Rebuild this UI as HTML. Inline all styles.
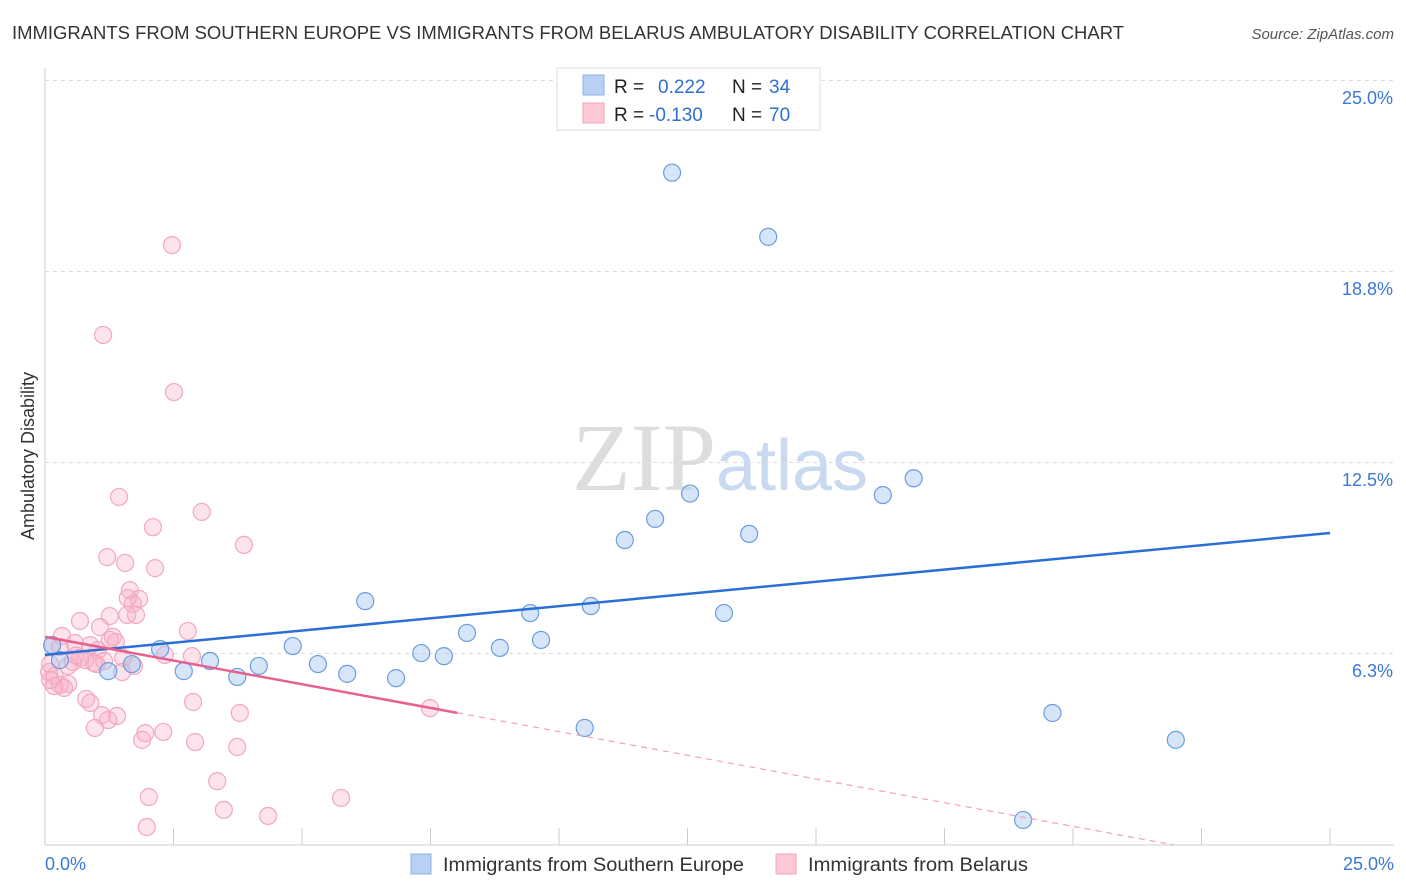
<!DOCTYPE html>
<html><head><meta charset="utf-8"><style>
body{margin:0;background:#fff;font-family:"Liberation Sans",sans-serif}
svg{display:block}
</style></head><body>
<svg id="chart" width="1406" height="892">
<text x="12" y="39" font-size="18" fill="#333" textLength="1112" lengthAdjust="spacingAndGlyphs">IMMIGRANTS FROM SOUTHERN EUROPE VS IMMIGRANTS FROM BELARUS AMBULATORY DISABILITY CORRELATION CHART</text>
<text x="1394" y="39" font-size="15" fill="#555" font-style="italic" text-anchor="end">Source: ZipAtlas.com</text>
<text x="720" y="490" font-size="96" fill="#ddd" text-anchor="middle" font-family="Liberation Serif,serif">ZIP<tspan fill="#c9d9ef" font-family="Liberation Sans,sans-serif" font-size="72">atlas</tspan></text>
<text transform="translate(34,456) rotate(-90)" font-size="18" fill="#333" text-anchor="middle">Ambulatory Disability</text>
<g id="grid"></g><g id="pts"></g><g id="lines"></g>
<g>
<rect x="557" y="68" width="263" height="62" fill="#fff" stroke="#ddd"/>
<rect x="583" y="75" width="21" height="20" fill="#b8d0f4" stroke="#8fb2e6"/>
<rect x="583" y="103" width="21" height="20" fill="#fbc8d6" stroke="#f2a5bb"/>
<text x="614" y="93" font-size="19" fill="#222">R =  <tspan fill="#2f6fd0" x="658">0.222</tspan><tspan fill="#222" x="732">N =</tspan><tspan fill="#2f6fd0" x="769">34</tspan></text>
<text x="614" y="121" font-size="19" fill="#222">R = <tspan fill="#2f6fd0" x="649">-0.130</tspan><tspan fill="#222" x="732">N =</tspan><tspan fill="#2f6fd0" x="769">70</tspan></text>
</g>
<g>
<rect x="411" y="854" width="20" height="20" fill="#b8d0f4" stroke="#8fb2e6"/>
<text x="443" y="871" font-size="19" fill="#333" textLength="301" lengthAdjust="spacingAndGlyphs">Immigrants from Southern Europe</text>
<rect x="776" y="854" width="20" height="20" fill="#fbc8d6" stroke="#f2a5bb"/>
<text x="808" y="871" font-size="19" fill="#333" textLength="220" lengthAdjust="spacingAndGlyphs">Immigrants from Belarus</text>
</g>
</svg>
<script>
const yTicks=[6.25,12.5,18.75,25];
const yTickLabels=["6.3%","12.5%","18.8%","25.0%"];
const xTickLabels=["0.0%","25.0%"];
const blueX=[12.2,14.07,16.9,16.3,12.55,11.87,11.28,13.7,6.23,9.44,10.62,13.21,8.21,9.65,4.82,8.85,7.32,7.76,3.21,4.16,5.31,2.70,5.88,3.74,6.83,2.24,1.69,1.23,10.5,19.6,22.0,19.03,0.14,0.29];
const blueY=[22.0,19.9,12.0,11.45,11.5,10.67,9.98,10.18,7.98,7.59,7.82,7.59,6.94,6.71,6.51,6.45,6.28,6.18,6.02,5.86,5.92,5.69,5.6,5.5,5.46,6.41,5.92,5.69,3.83,4.32,3.44,0.82,6.54,6.05];
const pinkX=[2.47,1.13,2.51,1.44,3.05,2.1,3.87,1.21,1.56,2.14,1.65,1.83,1.71,1.26,1.77,1.6,0.68,1.07,2.78,0.33,1.32,1.38,0.58,0.88,0.14,1.03,1.52,2.33,2.86,0.68,0.78,0.54,1.0,0.45,0.1,1.5,1.73,0.19,0.29,0.45,0.18,0.37,0.8,0.88,2.88,7.49,1.11,1.4,1.23,3.79,0.97,1.95,1.89,2.3,2.92,3.74,3.35,2.02,5.76,3.48,4.34,1.98,1.26,1.61,0.29,1.15,0.95,0.08,0.1,0.6];
const pinkY=[19.63,16.69,14.82,11.39,10.9,10.4,9.82,9.42,9.23,9.06,8.34,8.05,7.89,7.49,7.53,7.53,7.33,7.13,7.0,6.84,6.81,6.64,6.61,6.54,6.54,6.38,6.12,6.22,6.18,6.12,6.05,5.99,5.92,5.86,5.92,5.66,5.86,5.53,5.24,5.27,5.2,5.14,4.78,4.65,4.68,4.48,4.25,4.22,4.09,4.32,3.83,3.66,3.44,3.70,3.37,3.21,2.09,1.57,1.54,1.15,0.95,0.59,6.71,8.08,6.48,6.02,5.96,5.66,5.4,6.2];
const blueTrend=[6.22,10.21];
const pinkTrend=[6.81,-0.31];
const X=v=>45+v*51.4, Y=v=>845-v*30.56;
const NS="http://www.w3.org/2000/svg";
function mk(p,t,a){const e=document.createElementNS(NS,t);for(const k in a)e.setAttribute(k,a[k]);p.appendChild(e);return e;}
const grid=document.getElementById('grid'),pts=document.getElementById('pts'),lines=document.getElementById('lines');
yTicks.forEach((t,i)=>{
 const l=mk(grid,'line',{x1:45,x2:1394,y1:Y(t)-0.5,y2:Y(t)-0.5,stroke:'#ddd','stroke-dasharray':'4,4'});
 
 
 const tx=mk(grid,'text',{x:1393,y:Y(t)+23,'font-size':18,fill:'#3a78d4','text-anchor':'end'});
 tx.textContent=yTickLabels[i];
 
 
});
const ax=mk(grid,'line',{x1:45,x2:1394,y1:845,y2:845,stroke:'#ccc'});


const ay=mk(grid,'line',{x1:45,x2:45,y1:68,y2:845,stroke:'#ccc'});


for(let i=0;i<=10;i++){
 const t=mk(grid,'line',{x1:X(i*2.5),x2:X(i*2.5),y1:828,y2:845,stroke:'#ccc'});
 
 
}
[[0,'start',45],[25,'end',1394]].forEach((d,i)=>{
 const t=mk(grid,'text',{x:d[2],y:870,'font-size':18,fill:'#3a78d4','text-anchor':d[1]});
 t.textContent=xTickLabels[i];
 
 
});
pinkX.forEach((x,i)=>{
 const c=mk(pts,'circle',{cx:X(x),cy:Y(pinkY[i]),r:8.5,fill:'rgba(248,175,198,0.35)',stroke:'#f2a8be','stroke-width':1.2});
 
 
});
blueX.forEach((x,i)=>{
 const c=mk(pts,'circle',{cx:X(x),cy:Y(blueY[i]),r:8.5,fill:'rgba(165,198,240,0.45)',stroke:'#6a9de0','stroke-width':1.2});
 
 
});
const bl=mk(lines,'line',{x1:X(0),y1:Y(blueTrend[0]),x2:X(25),y2:Y(blueTrend[1]),stroke:'#2a6fd6','stroke-width':2.5});


const pe=8.02;
const pl=mk(lines,'line',{x1:X(0),y1:Y(pinkTrend[0]),x2:X(pe),y2:Y(pinkTrend[0]+pinkTrend[1]*pe),stroke:'#e8608e','stroke-width':2.5});


const xe=-pinkTrend[0]/pinkTrend[1];
const pd=mk(lines,'line',{x1:X(pe),y1:Y(pinkTrend[0]+pinkTrend[1]*pe),x2:X(xe),y2:Y(0),stroke:'#f0a0bb','stroke-width':1.2,'stroke-dasharray':'6,5'});


</script>
</body></html>
